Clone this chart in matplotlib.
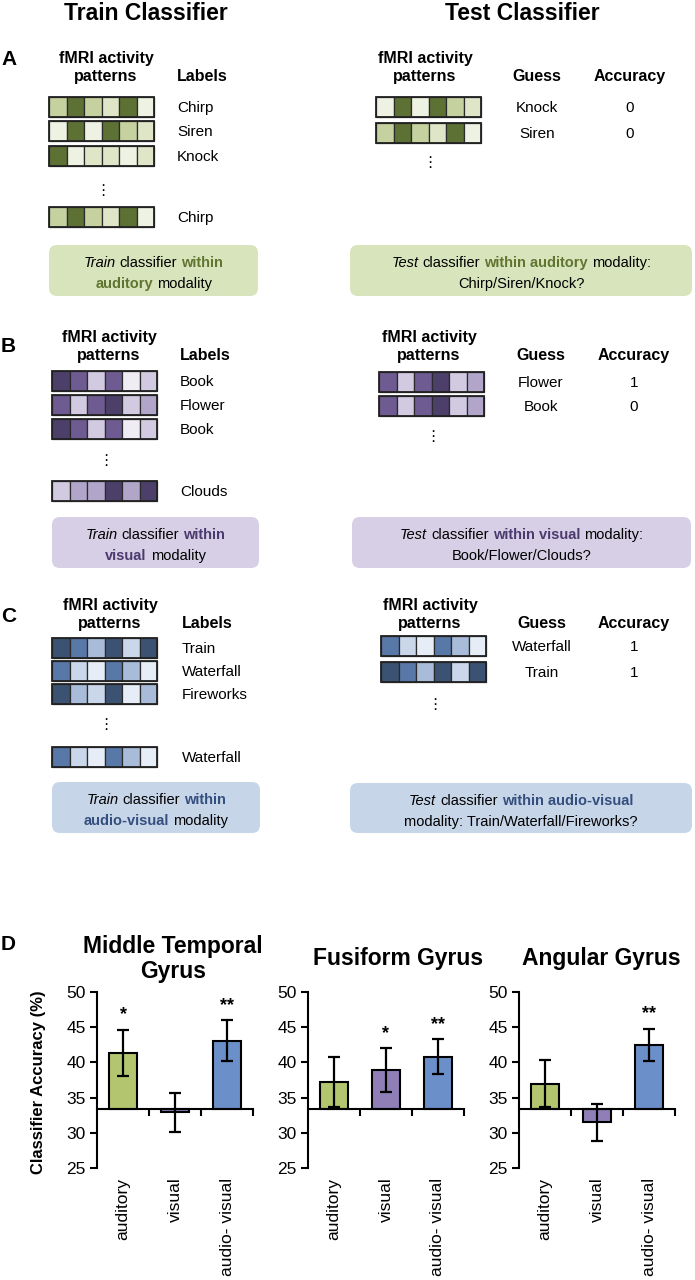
import numpy as np
import matplotlib
matplotlib.use('Agg')
import matplotlib.pyplot as plt
from matplotlib.patches import Rectangle, FancyBboxPatch

plt.rcParams['font.family'] = ['Liberation Sans', 'DejaVu Sans']

# ---------------- data ----------------
# shade levels, lightest -> darkest
green = ['#eef2e2', '#dfe6c8', '#c5d19f', '#5e7135']
purple = ['#efedf3', '#d1cae1', '#b1a6ca', '#6e5b91', '#4c3f6a']
blue = ['#e6edf6', '#cad7ea', '#a8bbd8', '#5878a7', '#3b5273']
green_txt = '#5f7530'
purple_txt = '#4b3a6e'
blue_txt = '#344f7d'
green_box = '#d8e4bc'
purple_box = '#d6cfe5'
blue_box = '#c7d5e9'

aud_train = [[2, 3, 2, 1, 3, 0], [0, 3, 0, 3, 2, 1], [3, 0, 1, 1, 0, 1], [2, 3, 2, 1, 3, 0]]
aud_labels = ['Chirp', 'Siren', 'Knock', 'Chirp']
aud_test = [[0, 3, 0, 3, 2, 1], [2, 3, 2, 1, 3, 0]]
aud_guess = ['Knock', 'Siren']
aud_acc = [0, 0]

vis_train = [[4, 3, 1, 3, 0, 1], [3, 1, 3, 4, 1, 2], [4, 3, 1, 3, 0, 1], [1, 2, 2, 4, 2, 4]]
vis_labels = ['Book', 'Flower', 'Book', 'Clouds']
vis_test = [[3, 1, 3, 4, 1, 2], [3, 1, 3, 4, 1, 2]]
vis_guess = ['Flower', 'Book']
vis_acc = [1, 0]

av_train = [[4, 3, 2, 4, 1, 4], [3, 1, 0, 3, 2, 0], [4, 2, 1, 4, 0, 2], [3, 1, 0, 3, 2, 0]]
av_labels = ['Train', 'Waterfall', 'Fireworks', 'Waterfall']
av_test = [[3, 1, 0, 3, 2, 0], [4, 3, 2, 4, 1, 4]]
av_guess = ['Waterfall', 'Train']
av_acc = [1, 1]

conditions = ['auditory', 'visual', 'audio- visual']
bar_colors = ['#b3c66f', '#8f7fb6', '#6b8fc8']
chance = 100 / 3

mtg_mean = [41.3, 32.9, 43.1]
mtg_err = [3.3, 2.8, 2.9]
mtg_sig = ['*', '', '**']
ffg_mean = [37.2, 38.9, 40.8]
ffg_err = [3.6, 3.1, 2.5]
ffg_sig = ['', '*', '**']
ag_mean = [37.0, 31.5, 42.5]
ag_err = [3.3, 2.65, 2.3]
ag_sig = ['', '', '**']

# ---------------- figure ----------------
W, H = 695, 1280
fig = plt.figure(figsize=(W / 100, H / 100), dpi=100)
ov = fig.add_axes([0, 0, 1, 1])
ov.set_xlim(0, W)
ov.set_ylim(H, 0)
ov.axis('off')
rend = fig.canvas.get_renderer()

CW, CH = 17.5, 20
FS = 11


def pattern_rows(x0, tops, rows, pal):
    for top, row in zip(tops, rows):
        for j, lev in enumerate(row):
            ov.add_patch(Rectangle((x0 + j * CW, top), CW, CH, facecolor=pal[lev],
                                   edgecolor='#2b2b2b', lw=0.9))
        ov.add_patch(Rectangle((x0, top), CW * len(row), CH, fill=False,
                               edgecolor='#222222', lw=1.3))


def rich_line(xc, y, parts, size=10.5):
    texts = []
    for s, style, weight, color in parts:
        texts.append(ov.text(0, y, s, fontsize=size, style=style, weight=weight,
                             color=color, ha='left', va='center'))
    widths = [t.get_window_extent(rend).width for t in texts]
    gap = 0.278 * size * 100 / 72
    x = xc - (sum(widths) + gap * (len(widths) - 1)) / 2
    for t, w in zip(texts, widths):
        t.set_x(x)
        x += w + gap


def box(x0, x1, top, bot, color):
    ov.add_patch(FancyBboxPatch((x0, top), x1 - x0, bot - top,
                                boxstyle='round,pad=0,rounding_size=8',
                                facecolor=color, edgecolor='none'))


def panel(letter, lb, base, train, labels, test, guess, acc, pal,
          lx0, ltops, rx0, rtops, hdr_l, hdr_r, lab_x, guess_x, acc_x,
          ldots, rdots, lbox, rbox, ltext, rtext):
    ov.text(1, lb, letter, fontsize=15, weight='bold', ha='left', va='baseline')
    for xc in (hdr_l, hdr_r):
        ov.text(xc, base, 'fMRI activity', fontsize=11.5, weight='bold', ha='center', va='baseline')
        ov.text(xc, base + 18, 'patterns', fontsize=11.5, weight='bold', ha='center', va='baseline')
    ov.text(lab_x, base + 18, 'Labels', fontsize=11.5, weight='bold', ha='left', va='baseline')
    ov.text(guess_x, base + 18, 'Guess', fontsize=11.5, weight='bold', ha='center', va='baseline')
    ov.text(acc_x, base + 18, 'Accuracy', fontsize=11.5, weight='bold', ha='center', va='baseline')

    pattern_rows(lx0, ltops, train, pal)
    for top, lab in zip(ltops, labels):
        ov.text(lab_x, top + CH / 2 + 1, lab, fontsize=FS, ha='left', va='center')
    pattern_rows(rx0, rtops, test, pal)
    for top, g, a in zip(rtops, guess, acc):
        ov.text(guess_x, top + CH / 2 + 1, g, fontsize=FS, ha='center', va='center')
        ov.text(acc_x, top + CH / 2 + 1, str(a), fontsize=FS, ha='center', va='center')
    for dx, dy in (ldots, rdots):
        ov.text(dx, dy, '\u22ee', fontsize=11, ha='center', va='center',
                family=['DejaVu Sans'])

    for (x0, x1, top, bot, col), lines in ((lbox, ltext), (rbox, rtext)):
        box(x0, x1, top, bot, col)
        xc = (x0 + x1) / 2
        for k, parts in enumerate(lines):
            rich_line(xc, top + 18 + 21 * k, parts)


N = ('normal', 'normal', 'black')
def it(s): return (s, 'italic', 'normal', 'black')
def nm(s): return (s, 'normal', 'normal', 'black')
def bd(s, c): return (s, 'normal', 'bold', c)


ov.text(146, 20, 'Train Classifier', fontsize=16.5, weight='bold', ha='center', va='baseline')
ov.text(522, 20, 'Test Classifier', fontsize=16.5, weight='bold', ha='center', va='baseline')

panel('A', 65, 63, aud_train, aud_labels, aud_test, aud_guess, aud_acc, green,
      49, [97, 121, 146, 207], 376, [97, 123], 106, 425, 177, 537, 630,
      (103, 190), (430, 163),
      (49, 258, 245, 296, green_box), (350, 692, 245, 296, green_box),
      [[it('Train'), nm('classifier'), bd('within', green_txt)],
       [bd('auditory', green_txt), nm('modality')]],
      [[it('Test'), nm('classifier'), bd('within auditory', green_txt), nm('modality:')],
       [nm('Chirp/Siren/Knock?')]])

panel('B', 352, 342, vis_train, vis_labels, vis_test, vis_guess, vis_acc, purple,
      52, [371, 395, 419, 481], 379, [372, 396], 109, 429, 180, 541, 634,
      (106, 460), (433, 437),
      (52, 259, 517, 568, purple_box), (352, 691, 517, 568, purple_box),
      [[it('Train'), nm('classifier'), bd('within', purple_txt)],
       [bd('visual', purple_txt), nm('modality')]],
      [[it('Test'), nm('classifier'), bd('within visual', purple_txt), nm('modality:')],
       [nm('Book/Flower/Clouds?')]])

panel('C', 622, 610, av_train, av_labels, av_test, av_guess, av_acc, blue,
      52, [638, 661, 684, 747], 381, [636, 662], 110, 430, 182, 542, 634,
      (106, 725), (435, 705),
      (52, 260, 782, 833, blue_box), (350, 692, 783, 833, blue_box),
      [[it('Train'), nm('classifier'), bd('within', blue_txt)],
       [bd('audio-visual', blue_txt), nm('modality')]],
      [[it('Test'), nm('classifier'), bd('within audio-visual', blue_txt)],
       [nm('modality: Train/Waterfall/Fireworks?')]])

# ---------------- panel D: bar charts ----------------
ov.text(1, 950, 'D', fontsize=15, weight='bold', ha='left', va='baseline')
ov.text(173, 953, 'Middle Temporal', fontsize=16.5, weight='bold', ha='center', va='baseline')
ov.text(173, 978, 'Gyrus', fontsize=16.5, weight='bold', ha='center', va='baseline')
ov.text(398, 965, 'Fusiform Gyrus', fontsize=16.5, weight='bold', ha='center', va='baseline')
ov.text(601, 965, 'Angular Gyrus', fontsize=16.5, weight='bold', ha='center', va='baseline')
ov.text(39, 1082, 'Classifier Accuracy (%)', fontsize=12, weight='bold', rotation=90,
        ha='center', va='center')

y50, y25 = 992, 1168
for xl, mean, err, sig in ((97, mtg_mean, mtg_err, mtg_sig),
                           (308, ffg_mean, ffg_err, ffg_sig),
                           (519, ag_mean, ag_err, ag_sig)):
    ax = fig.add_axes([xl / W, 1 - y25 / H, 156 / W, (y25 - y50) / H])
    ax.patch.set_alpha(0)
    x = np.arange(len(conditions))
    mean = np.array(mean)
    err = np.array(err)
    ax.bar(x, mean - chance, bottom=chance, width=0.52, color=bar_colors,
           edgecolor='black', linewidth=1.5, zorder=2)
    ax.errorbar(x, mean, yerr=err, fmt='none', ecolor='black', elinewidth=1.6,
                capsize=4, capthick=1.6, zorder=3)
    for i, s in enumerate(sig):
        if s:
            ax.text(i, mean[i] + err[i] + 1.5, s, fontsize=13, weight='bold',
                    ha='center', va='baseline')
    ax.set_xlim(-0.5, 2.5)
    ax.set_ylim(25, 50)
    for side in ('top', 'right'):
        ax.spines[side].set_visible(False)
    ax.spines['bottom'].set_position(('data', chance))
    ax.spines['bottom'].set_linewidth(1.5)
    ax.spines['left'].set_linewidth(1.5)
    ax.set_xticks([0.5, 1.5, 2.5])
    ax.set_xticklabels([])
    ax.tick_params(axis='x', direction='out', length=5, width=1.5)
    ax.set_yticks(range(25, 51, 5))
    ax.tick_params(axis='y', direction='out', length=5, width=1.5, labelsize=12.5, pad=3)
    for i, c in enumerate(conditions):
        ax.text(i, -0.055, c, transform=ax.get_xaxis_transform(), rotation=90,
                ha='center', va='top', fontsize=12.5)

fig.savefig('out.png', dpi=100)
